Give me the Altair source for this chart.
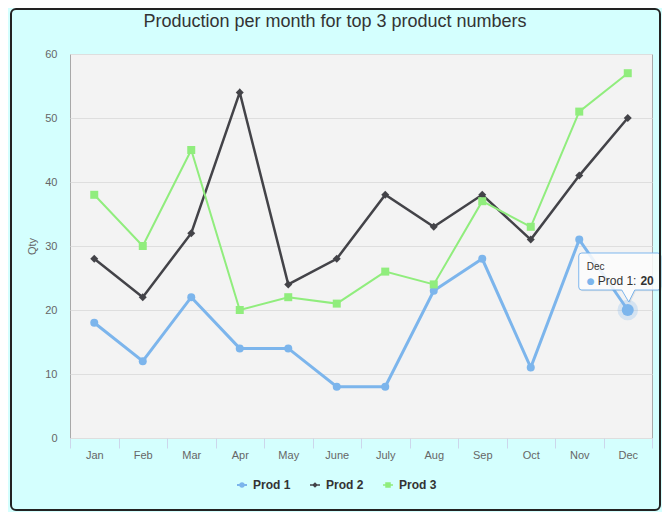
import altair as alt
import pandas as pd

# ---------------- data ----------------
months = ["Jan", "Feb", "Mar", "Apr", "May", "June", "July", "Aug", "Sep", "Oct", "Nov", "Dec"]
prod1 = [18, 12, 22, 14, 14, 8, 8, 23, 28, 11, 31, 20]
prod2 = [28, 22, 32, 54, 24, 28, 38, 33, 38, 31, 41, 50]
prod3 = [38, 30, 45, 20, 22, 21, 26, 24, 37, 33, 51, 57]
series_names = ["Prod 1", "Prod 2", "Prod 3"]
series_colors = ["#7cb5ec", "#434348", "#90ed7d"]
series_widths = [3, 2, 2]
marker_shapes = ["circle", "diamond", "square"]
y_ticks = [0, 10, 20, 30, 40, 50, 60]
title_text = "Production per month for top 3 product numbers"
y_title = "Qty"

# hovered point shown with its tooltip
hover_month = "Dec"
hover_series = "Prod 1"
hover_value = prod1[months.index(hover_month)]

rows = []
for name, vals in zip(series_names, [prod1, prod2, prod3]):
    for m, v in zip(months, vals):
        rows.append({"month": m, "qty": v, "series": name, "mk": name})
df = pd.DataFrame(rows)

hover_df = pd.DataFrame([{
    "month": hover_month, "qty": hover_value, "series": hover_series,
    "header": hover_month, "label": hover_series + ": ", "val": str(hover_value),
}])
legend_df = pd.DataFrame({"lg": series_names})

# ---------------- shapes ----------------
legend_paths = [
    "M-1,-0.2L1,-0.2L1,0.2L-1,0.2Z M-0.57,0A0.57,0.57 0 1,1 0.57,0A0.57,0.57 0 1,1 -0.57,0Z",
    "M-1,-0.14L1,-0.14L1,0.14L-1,0.14Z M0,-0.57L0.57,0L0,0.57L-0.57,0Z",
    "M-1,-0.14L1,-0.14L1,0.14L-1,0.14Z M-0.55,-0.55L0.55,-0.55L0.55,0.55L-0.55,0.55Z",
]


def callout(dx=0.0, dy=0.0):
    l, r, t, b, c = -0.49 + dx, 0.33 + dx, -0.57 + dy, -0.20 + dy, 0.03
    return (
        f"M{l + c:.3f},{t:.3f} L{r - c:.3f},{t:.3f} Q{r:.3f},{t:.3f} {r:.3f},{t + c:.3f} "
        f"L{r:.3f},{b - c:.3f} Q{r:.3f},{b:.3f} {r - c:.3f},{b:.3f} "
        f"L{0.07 + dx:.3f},{b:.3f} L{0.01 + dx:.3f},{-0.08 + dy:.3f} L{-0.06 + dx:.3f},{b:.3f} "
        f"L{l + c:.3f},{b:.3f} Q{l:.3f},{b:.3f} {l:.3f},{b - c:.3f} "
        f"L{l:.3f},{t + c:.3f} Q{l:.3f},{t:.3f} {l + c:.3f},{t:.3f} Z"
    )


FONT = "Liberation Sans"
W, H = 582, 384

color_scale = alt.Scale(domain=series_names, range=series_colors)

x_enc = alt.X(
    "month:N", sort=months, bandPosition=0.5,
    scale=alt.Scale(type="band", paddingInner=0, paddingOuter=0, domain=months),
    axis=alt.Axis(
        title=None, labelAngle=0, tickBand="extent", domain=False, grid=False,
        ticks=True, tickSize=10, tickColor="#ccd6eb", tickWidth=1,
        labelPadding=1, labelFont=FONT, labelFontSize=11, labelColor="#666666",
    ),
)
y_enc = alt.Y(
    "qty:Q",
    scale=alt.Scale(domain=[0, 60], nice=False),
    axis=alt.Axis(
        title=y_title, values=y_ticks, domain=False, ticks=False, tickSize=0,
        grid=True, gridColor="#dedede", gridWidth=1,
        labelPadding=13, labelFont=FONT, labelFontSize=11, labelColor="#666666",
        titleFont=FONT, titleFontSize=11, titleFontWeight="normal", titleColor="#666666",
        titlePadding=7,
    ),
)

base = alt.Chart(df)

lines = base.mark_line().encode(
    x=x_enc, y=y_enc,
    color=alt.Color("series:N", scale=color_scale, legend=None),
    strokeWidth=alt.StrokeWidth("series:N", scale=alt.Scale(domain=series_names, range=series_widths), legend=None),
)

markers = base.mark_point(filled=True, size=64, opacity=1).encode(
    x=x_enc, y=y_enc,
    color=alt.Color("series:N", scale=color_scale, legend=None),
    shape=alt.Shape("mk:N", scale=alt.Scale(domain=series_names, range=marker_shapes), legend=None),
)

hv = alt.Chart(hover_df)
halo = hv.mark_point(filled=True, shape="circle", size=420, color=series_colors[0], opacity=0.25).encode(x=x_enc, y=y_enc)
hmark = hv.mark_point(filled=True, shape="circle", size=144, color=series_colors[0], opacity=1).encode(x=x_enc, y=y_enc)

tip_shadow = hv.mark_point(shape=callout(0.012, 0.012), size=40000, filled=True,
                           fill="#000000", fillOpacity=0.07, strokeOpacity=0, opacity=1).encode(x=x_enc, y=y_enc)
tip_box = hv.mark_point(shape=callout(), size=40000, filled=True, fill="#ffffff", fillOpacity=0.85,
                        stroke=series_colors[0], strokeWidth=1, opacity=1).encode(x=x_enc, y=y_enc)
tip_header = hv.mark_text(align="left", baseline="alphabetic", dx=-41, dy=-40, font=FONT,
                          fontSize=10, color="#333333").encode(x=x_enc, y=y_enc, text="header:N")
tip_bullet = hv.mark_text(align="center", baseline="middle", dx=-37, dy=-29, font="DejaVu Sans",
                          fontSize=9, color=series_colors[0]).encode(x=x_enc, y=y_enc, text=alt.value("●"))
tip_label = hv.mark_text(align="left", baseline="alphabetic", dx=-30, dy=-25, font=FONT,
                         fontSize=12, color="#333333").encode(x=x_enc, y=y_enc, text="label:N")
tip_val = hv.mark_text(align="right", baseline="alphabetic", dx=26, dy=-25, font=FONT,
                       fontSize=12, fontWeight="bold", color="#333333").encode(x=x_enc, y=y_enc, text="val:N")

legend_cfg = dict(
    title=None, orient="none", legendX=166, legendY=425, direction="horizontal", padding=0,
    labelFont=FONT, labelFontSize=12, labelFontWeight="bold", labelColor="#333333",
    columnPadding=18, labelOffset=5, symbolStrokeWidth=0,
)
# legend-only layer: its points sit off to the left, outside the page
legend_layer = alt.Chart(legend_df).mark_point(filled=True, size=196, opacity=1).encode(
    x=alt.value(-2000), y=alt.value(0),
    color=alt.Color("lg:N", scale=alt.Scale(domain=series_names, range=series_colors),
                    legend=alt.Legend(**legend_cfg)),
    shape=alt.Shape("lg:N", scale=alt.Scale(domain=series_names, range=legend_paths),
                    legend=alt.Legend(**legend_cfg)),
)

border = alt.Chart(pd.DataFrame({"a": [0]})).mark_rect(
    fill="transparent", stroke="#222222", strokeWidth=2, cornerRadius=5
).encode(x=alt.value(-59), x2=alt.value(590), y=alt.value(-45), y2=alt.value(456))

chart = alt.layer(
    lines, markers, halo, hmark, tip_shadow, tip_box, tip_header, tip_bullet, tip_label, tip_val,
    legend_layer, border,
).resolve_scale(
    color="independent", shape="independent",
).properties(
    width=W, height=H,
    title=alt.TitleParams(title_text, font=FONT, fontSize=18, fontWeight="normal", color="#333333",
                          anchor="middle", frame="group", dx=-26, offset=-23),
    background="#d4fffe",
    padding={"left": 62, "top": 46, "right": 10, "bottom": 74},
    autosize=alt.AutoSizeParams(type="none"),
).configure_view(
    fill="#f3f3f3", stroke="#a8a8a8", strokeWidth=1,
)

chart.save("out.html", embed_options={"renderer": "svg", "actions": False})
